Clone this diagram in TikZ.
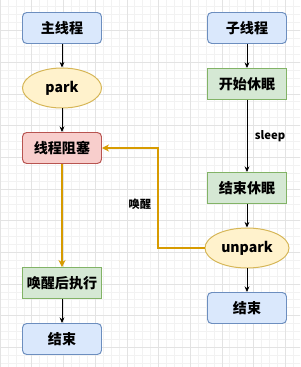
\documentclass[tikz,border=0pt]{standalone}
\usepackage{fontspec}
\setmainfont{Noto Sans CJK SC}
\usepackage{tikz}
\usetikzlibrary{arrows.meta,shapes.geometric,positioning}
\definecolor{blueFill}{HTML}{DAE8FC}
\definecolor{blueLine}{HTML}{6C8EBF}
\definecolor{yellowFill}{HTML}{FFF2CC}
\definecolor{yellowLine}{HTML}{D6B656}
\definecolor{redFill}{HTML}{F8CECC}
\definecolor{redLine}{HTML}{B85450}
\definecolor{greenFill}{HTML}{D5E8D4}
\definecolor{greenLine}{HTML}{82B366}
\definecolor{wakeOrange}{HTML}{D79B00}

\begin{document}
\begin{tikzpicture}[
  every node/.style={font=\bfseries},
  box/.style={draw, line width=0.7pt, rounded corners=3pt,
              minimum width=1.975cm, minimum height=0.775cm, align=center},
  bluebox/.style={box, draw=blueLine, fill=blueFill},
  greenbox/.style={box, draw=greenLine, fill=greenFill, rounded corners=0pt},
  redbox/.style={box, draw=redLine, fill=redFill},
  oval/.style={ellipse, draw=yellowLine, fill=yellowFill, line width=0.7pt,
               minimum width=1.975cm, minimum height=1.0cm, inner sep=0pt},
  arrow/.style={-{Stealth[length=4pt,width=3.5pt]}, line width=0.7pt},
  wake/.style={-{Stealth[length=5pt,width=5pt]}, line width=1pt, wakeOrange},
  label/.style={font=\footnotesize\bfseries, text=black},
]

%% -- background grid -------------------------------------------------------
\useasboundingbox (0,0) rectangle (7.5,-9.175);
\fill[white] (0,0) rectangle (7.5,-9.175);
\begin{scope}
  \clip (0,0) rectangle (7.5,-9.175);
  \draw[gray!10, line width=0.3pt, xstep=0.198, ystep=0.198, shift={(0,0.0325)}]
    (0,-9.4) grid (7.6,0.2);
  \draw[gray!22, line width=0.4pt, xstep=0.7925, ystep=0.7925, shift={(0,0.0325)}]
    (0,-9.6) grid (7.6,0.2);
\end{scope}

%% -- main thread -----------------------------------------------------------
\node[bluebox]  (mainT)  at (1.55,-0.70)  {主线程};
\node[oval]     (park)   at (1.55,-2.20)  {park};
\node[redbox]   (block)  at (1.55,-3.70)  {线程阻塞};
\node[greenbox] (resume) at (1.55,-7.075) {唤醒后执行};
\node[bluebox]  (endL)   at (1.55,-8.475) {结束};

%% -- child thread ----------------------------------------------------------
\node[bluebox]  (child)      at (6.175,-0.70) {子线程};
\node[greenbox] (sleepStart) at (6.175,-2.10) {开始休眠};
\node[greenbox] (sleepEnd)   at (6.175,-4.70) {结束休眠};
\node[oval, minimum width=2.1cm] (unpark) at (6.175,-6.20) {unpark};
\node[bluebox]  (endR)       at (6.175,-7.70) {结束};

%% -- connectors ------------------------------------------------------------
\draw[arrow] (mainT) -- (park);
\draw[arrow] (park) -- (block);
\draw[arrow] (resume) -- (endL);
\draw[wake]  (block) -- (resume);

\draw[arrow] (child) -- (sleepStart);
\draw[arrow] (sleepStart) -- (sleepEnd)
  node[midway, right=2pt, label] {sleep};
\draw[arrow] (sleepEnd) -- (unpark);
\draw[arrow] (unpark) -- (endR);

% unpark wakes the blocked main thread
\coordinate (bend) at (3.95,-6.20);
\draw[wake] (unpark.west) -- (bend) |- (block.east)
  node[pos=0.22, left=1pt, label] {唤醒};

\end{tikzpicture}
\end{document}
